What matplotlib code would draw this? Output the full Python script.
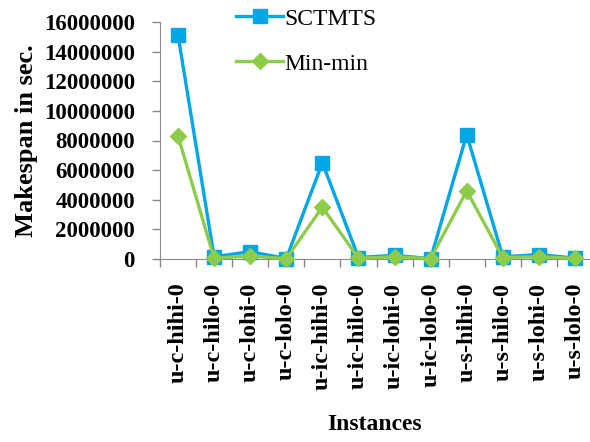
import numpy as np
import matplotlib
matplotlib.use('Agg')
import matplotlib.pyplot as plt

# data
instances = ['u-c-hihi-0', 'u-c-hilo-0', 'u-c-lohi-0', 'u-c-lolo-0',
             'u-ic-hihi-0', 'u-ic-hilo-0', 'u-ic-lohi-0', 'u-ic-lolo-0',
             'u-s-hihi-0', 'u-s-hilo-0', 'u-s-lohi-0', 'u-s-lolo-0']
sctmts = [15100000, 150000, 500000, 30000, 6500000, 100000,
          250000, 20000, 8400000, 150000, 300000, 60000]
minmin = [8300000, 50000, 200000, 20000, 3500000, 50000,
          150000, 30000, 4600000, 100000, 150000, 40000]
yticks = [0, 2000000, 4000000, 6000000, 8000000, 10000000, 12000000, 14000000, 16000000]

plt.rcParams['font.family'] = ['Liberation Serif', 'DejaVu Serif']

fig = plt.figure(figsize=(5.9, 4.42), dpi=100)
ax = fig.add_axes([160/590, 1-259/442, 433/590, (259-22)/442])

x = np.arange(len(instances))
ax.plot(x, sctmts, color='#00A6E6', lw=2.4, marker='s', ms=10, label='SCTMTS', clip_on=False, zorder=3)
ax.plot(x, minmin, color='#8DCB4A', lw=2.4, marker='D', ms=8, label='Min-min', clip_on=False, zorder=4)

ax.set_xlim(-0.5, len(instances) - 0.5)
ax.set_ylim(0, 16000000)
ax.set_yticks(yticks)
ax.set_yticklabels([str(v) for v in yticks], fontsize=16.5, fontweight='bold')

# category boundaries as ticks, labels in the middle
ax.set_xticks(np.arange(-0.5, len(instances), 1.0))
ax.set_xticklabels([])
ax.set_xticks(x, minor=True)
ax.set_xticklabels(instances, minor=True, rotation=90, fontsize=17.5, fontweight='bold')
ax.tick_params(axis='x', which='minor', length=0, pad=17)
ax.tick_params(axis='x', which='major', length=6, color='#888888', width=1)
ax.tick_params(axis='y', length=6, color='#888888', width=1, pad=12)

for s in ['top', 'right']:
    ax.spines[s].set_visible(False)
for s in ['left', 'bottom']:
    ax.spines[s].set_color('#888888')

ax.set_ylabel('Makespan in sec.', fontsize=19, fontweight='bold', labelpad=4)
fig.text(375/590, 1-425/442, 'Instances', fontsize=17, fontweight='bold', ha='center', va='center')

ax.legend(loc='upper left', bbox_to_anchor=(236/590, 1-8/442), bbox_transform=fig.transFigure,
          frameon=False, fontsize=17, handlelength=2.0, handletextpad=0.05, labelspacing=1.0,
          borderaxespad=0, borderpad=0)

fig.savefig('out.png', dpi=100)
